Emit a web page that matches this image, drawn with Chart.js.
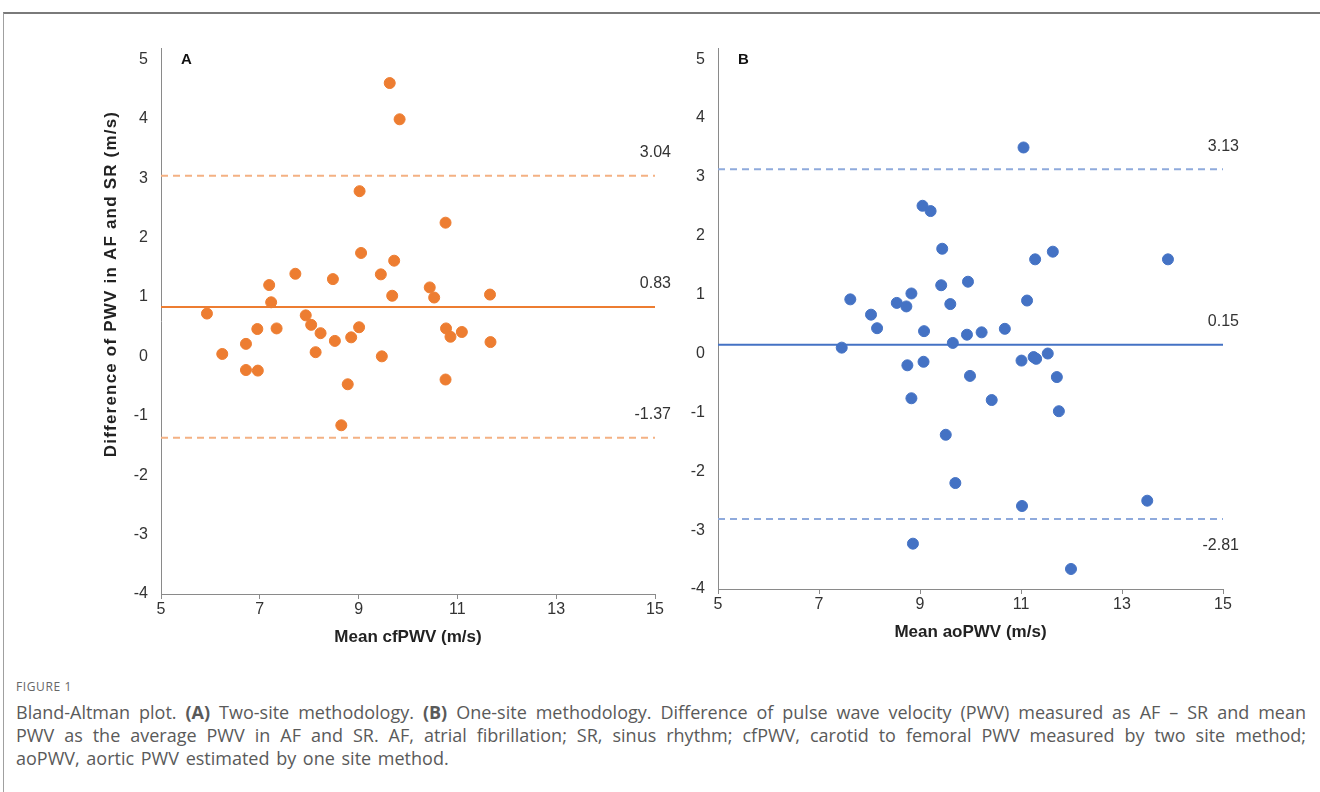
<!DOCTYPE html>
<html>
<head>
<meta charset="utf-8">
<script src="https://cdn.jsdelivr.net/npm/chart.js@4.4.1/dist/chart.umd.min.js"></script>
<style>
  html, body { margin: 0; padding: 0; background: #fff; }
  body { width: 1320px; height: 792px; position: relative; overflow: hidden; }
  .frame { position: absolute; left: 3px; top: 12px; right: -5px; bottom: -10px;
           border-top: 2px solid #7a7a7a; border-left: 1px solid #a0a0a0; }
  #chartA { position: absolute; left: 0; top: 20px; }
  #chartB { position: absolute; left: 680px; top: 20px; }
  .caption { position: absolute; left: 16px; top: 677px; width: 1290px;
             font-family: "Open Sans", "Noto Sans", sans-serif; color: #5a5a5a; }
  .caption .fig { font-size: 12px; letter-spacing: 0.6px; color: #666; line-height: 20px; margin-bottom: 4px; }
  .caption .ln { font-size: 18px; line-height: 23px; white-space: nowrap; }
  .caption .j { text-align: justify; text-align-last: justify; }
  .caption .last { word-spacing: 2px; }
</style>
</head>
<body>
<div class="frame"></div>
<canvas id="chartA" width="680" height="640"></canvas>
<canvas id="chartB" width="640" height="640"></canvas>
<div class="caption">
  <div class="fig">FIGURE 1</div>
  <div class="ln j">Bland-Altman plot. <b>(A)</b> Two-site methodology. <b>(B)</b> One-site methodology. Difference of pulse wave velocity (PWV) measured as AF &ndash; SR and mean</div>
  <div class="ln j">PWV as the average PWV in AF and SR. AF, atrial fibrillation; SR, sinus rhythm; cfPWV, carotid to femoral PWV measured by two site method;</div>
  <div class="ln last">aoPWV, aortic PWV estimated by one site method.</div>
</div>
<script>
// ---- data ----
// panel A: two-site (cfPWV)
const meanA = [5.93, 6.24, 6.72, 6.72, 6.95, 6.96, 7.19, 7.23, 7.34, 7.72, 7.93, 8.04, 8.13,
  8.23, 8.48, 8.52, 8.65, 8.78, 8.85, 9.01, 9.02, 9.05, 9.45, 9.47, 9.63, 9.68, 9.72, 9.83,
  10.44, 10.53, 10.76, 10.77, 10.76, 10.86, 11.09, 11.66, 11.67];
const diffA = [0.72, 0.04, 0.21, -0.23, 0.46, -0.24, 1.20, 0.91, 0.47, 1.39, 0.69, 0.53, 0.07,
  0.39, 1.30, 0.26, -1.16, -0.47, 0.32, 0.49, 2.78, 1.74, 1.38, 0.00, 4.60, 1.02, 1.61, 3.99,
  1.16, 0.99, 2.25, 0.47, -0.39, 0.33, 0.41, 1.04, 0.24];
const limitsA = [3.04, 0.83, -1.37]; // upper LoA, bias, lower LoA

// panel B: one-site (aoPWV)
const meanB = [7.45, 7.62, 8.03, 8.15, 8.54, 8.73, 8.75, 8.83, 8.83, 8.86, 9.05, 9.07, 9.08,
  9.21, 9.42, 9.44, 9.51, 9.60, 9.65, 9.70, 9.93, 9.95, 9.99, 10.22, 10.42, 10.68, 11.01,
  11.02, 11.05, 11.12, 11.25, 11.28, 11.30, 11.53, 11.63, 11.71, 11.75, 11.99, 13.50, 13.91];
const diffB = [0.10, 0.92, 0.66, 0.43, 0.86, 0.80, -0.20, 1.02, -0.76, -3.23, 2.51, -0.14, 0.38,
  2.42, 1.16, 1.78, -1.38, 0.84, 0.18, -2.20, 0.32, 1.22, -0.38, 0.36, -0.79, 0.42, -0.12,
  -2.59, 3.50, 0.90, -0.06, 1.60, -0.09, 0.00, 1.73, -0.40, -0.98, -3.66, -2.50, 1.60];
const limitsB = [3.13, 0.15, -2.81];

const xRange = [5, 15];
const yRange = [-4, 5.19];
const xTicks = [5, 7, 9, 11, 13, 15];

const FONT = '"Liberation Sans", Arial, Helvetica, sans-serif';

// draws the limit values, the panel letter and (panel A only) the y title
const overlay = {
  id: 'overlay',
  afterDraw(chart, args, opts) {
    const {ctx, chartArea, scales: {y}} = chart;
    ctx.save();
    ctx.fillStyle = '#333';
    ctx.font = '16px ' + FONT;
    ctx.textAlign = 'right';
    ctx.textBaseline = 'middle';
    opts.limits.forEach((v, i) => {
      ctx.fillText(v.toFixed(2), chartArea.right + 16, y.getPixelForValue(v) + opts.shift[i]);
    });

    ctx.font = 'bold 15px ' + FONT;
    ctx.textAlign = 'left';
    ctx.fillStyle = '#111';
    ctx.fillText(opts.letter, chartArea.left + 20, y.getPixelForValue(5) + 1);

    if (opts.yTitle) {
      ctx.translate(111, 264);
      ctx.rotate(-Math.PI / 2);
      ctx.textAlign = 'center';
      ctx.font = 'bold 17px ' + FONT;
      ctx.letterSpacing = '1.2px';
      ctx.fillStyle = '#222';
      ctx.fillText(opts.yTitle, 0, 0);
    }
    ctx.restore();
  }
};

function hline(value, color, dashed) {
  return {
    type: 'line',
    data: [{x: xRange[0], y: value}, {x: xRange[1], y: value}],
    borderColor: color,
    borderWidth: 2,
    borderDash: dashed ? [7, 5] : [],
    pointRadius: 0,
    order: 2
  };
}

function makeChart(id, xs, ys, limits, dot, dash, o) {
  const points = xs.map((v, i) => ({x: v, y: ys[i]}));
  const ctx = document.getElementById(id).getContext('2d');
  return new Chart(ctx, {
    type: 'scatter',
    data: {
      datasets: [
        {
          data: points,
          backgroundColor: dot,
          borderColor: dot,
          borderWidth: 1,
          pointRadius: 5.5,
          order: 1
        },
        hline(limits[0], dash, true),
        hline(limits[1], dot, false),
        hline(limits[2], dash, true)
      ]
    },
    options: {
      responsive: false,
      animation: false,
      layout: { padding: o.padding },
      plugins: {
        legend: { display: false },
        tooltip: { enabled: false },
        overlay: { limits: limits, shift: o.shift, letter: o.letter, yTitle: o.yTitle }
      },
      scales: {
        x: {
          type: 'linear',
          min: xRange[0],
          max: xRange[1],
          afterBuildTicks: s => { s.ticks = xTicks.map(v => ({value: v})); },
          afterFit: s => { s.height = o.xHeight; },
          grid: { drawOnChartArea: false, drawTicks: true, tickLength: 5, color: '#8a8a8a' },
          border: { display: true, color: '#8a8a8a', width: 1 },
          ticks: { color: '#333', padding: 1, font: { family: FONT, size: 16 } },
          title: {
            display: true,
            text: o.xTitle,
            color: '#222',
            font: { family: FONT, size: 17, weight: 'bold' },
            padding: { top: 0, bottom: o.xTitlePad }
          }
        },
        y: {
          type: 'linear',
          min: yRange[0],
          max: yRange[1],
          afterFit: s => { s.width = o.yWidth; },
          ticks: { stepSize: 1, includeBounds: false, color: '#333', padding: 13,
                   font: { family: FONT, size: 16 } },
          grid: { drawOnChartArea: false, drawTicks: false, color: '#8a8a8a' },
          border: { display: true, color: '#8a8a8a', width: 1 }
        }
      }
    },
    plugins: [overlay]
  });
}

makeChart('chartA', meanA, diffA, limitsA, '#ED7D31', '#F4B183', {
  padding: { left: 121, right: 25, top: 28, bottom: 0 },
  yWidth: 40, xHeight: 66, xTitlePad: 12,
  shift: [-23, -23, -23], letter: 'A',
  xTitle: 'Mean cfPWV (m/s)',
  yTitle: 'Difference of PWV in AF and SR (m/s)'
});

makeChart('chartB', meanB, diffB, limitsB, '#4472C4', '#8FAADC', {
  padding: { left: 8, right: 97, top: 28, bottom: 0 },
  yWidth: 30, xHeight: 71, xTitlePad: 17,
  shift: [-23, -23, 27], letter: 'B',
  xTitle: 'Mean aoPWV (m/s)',
  yTitle: null
});
</script>
</body>
</html>
